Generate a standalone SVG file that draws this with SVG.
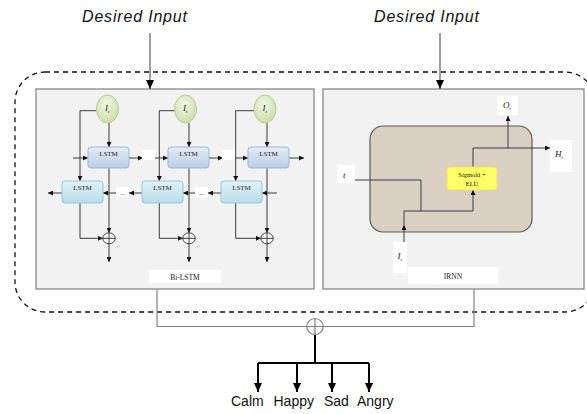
<svg xmlns="http://www.w3.org/2000/svg" width="587" height="414" viewBox="0 0 587 414">
<defs>
<style>
.ln{fill:none;stroke:#3a3a3a;stroke-width:1}
.gl{fill:none;stroke:#808080;stroke-width:1.2}
.bk{fill:none;stroke:#000;stroke-width:2}
.panel{fill:#f2f2f2;stroke:#7f7f7f;stroke-width:1.2}
.wb{fill:#fff;stroke:none}
.tm{font-family:"Liberation Serif",serif;fill:#222}
.lb{font-family:"Liberation Sans",Arial,sans-serif;fill:#111}
.up{fill:url(#gU);stroke:#9db7d6;stroke-width:1}
.lo{fill:url(#gL);stroke:#93c8da;stroke-width:1}
.el{fill:url(#gE);stroke:#b9cc8f;stroke-width:1}
.pc{fill:#fff;stroke:#404040;stroke-width:1}
</style>
<linearGradient id="gU" x1="0" y1="0" x2="0" y2="1"><stop offset="0" stop-color="#e4ecf6"/><stop offset="1" stop-color="#b9cde6"/></linearGradient>
<linearGradient id="gL" x1="0" y1="0" x2="0" y2="1"><stop offset="0" stop-color="#e2f2f7"/><stop offset="1" stop-color="#b5dde9"/></linearGradient>
<radialGradient id="gE" cx="0.45" cy="0.35" r="0.7"><stop offset="0" stop-color="#f2f6e6"/><stop offset="1" stop-color="#c9dca4"/></radialGradient>
<marker id="a" markerUnits="userSpaceOnUse" markerWidth="5" markerHeight="5" refX="5" refY="2.5" orient="auto"><path d="M0,0 L5,2.5 L0,5 z" fill="#111"/></marker>
<marker id="A" markerUnits="userSpaceOnUse" markerWidth="9" markerHeight="8" refX="9" refY="4" orient="auto"><path d="M0,0 L9,4 L0,8 z" fill="#000"/></marker>
</defs>
<rect width="587" height="414" fill="#fff"/>

<g id="frame">
<rect x="15" y="72" width="580" height="240" rx="30" fill="none" stroke="#111" stroke-width="1.3" stroke-dasharray="5,4"/>
</g>

<g id="input-left">
<text class="lb" x="82" y="22" font-size="16" font-style="italic" textLength="105">Desired Input</text>
</g>
<g id="input-right">
<text class="lb" x="374" y="22" font-size="16" font-style="italic" textLength="105">Desired Input</text>
</g>

<g id="bilstm">
<rect class="panel" x="36" y="89" width="278" height="200"/>
<rect class="wb" x="149" y="270" width="72" height="13"/>
<text class="tm" x="185" y="280" font-size="7.5" text-anchor="middle">Bi-LSTM</text>
</g>

<g id="irnn">
<rect class="panel" x="323" y="89" width="261" height="200"/>
<rect x="370" y="126" width="162" height="106" rx="13" fill="#d9d0c3" stroke="#5a5a5a" stroke-width="1.2"/>
<rect class="wb" x="408" y="267" width="90" height="17"/>
<text class="tm" x="453" y="279" font-size="7.5" text-anchor="middle">IRNN</text>
</g>

<g id="connectors">
<line class="ln" x1="150" y1="33" x2="150" y2="89" stroke="#000" marker-end="url(#A)"/>
<line class="ln" x1="440" y1="33" x2="440" y2="89" stroke="#000" marker-end="url(#A)"/>
<!-- Bi-LSTM internal -->
<path class="ln" d="M96.5,110.7 H80 V181" marker-end="url(#a)"/>
<path class="ln" d="M174.5,110.7 H159.3 V181" marker-end="url(#a)"/>
<path class="ln" d="M254,110.7 H235.7 V181" marker-end="url(#a)"/>
<path class="ln" d="M109,123 V147" marker-end="url(#a)"/>
<path class="ln" d="M189,123 V147" marker-end="url(#a)"/>
<path class="ln" d="M267,123 V147" marker-end="url(#a)"/>
<path class="ln" d="M109,168 V232.8" marker-end="url(#a)"/>
<path class="ln" d="M189,168 V232.8" marker-end="url(#a)"/>
<path class="ln" d="M267,168 V232.8" marker-end="url(#a)"/>
<path class="ln" d="M109,243.8 V262" marker-end="url(#a)"/>
<path class="ln" d="M189,243.8 V262" marker-end="url(#a)"/>
<path class="ln" d="M267,243.8 V262" marker-end="url(#a)"/>
<path class="ln" d="M80,203 V238.3 H102.8" marker-end="url(#a)"/>
<path class="ln" d="M159.3,203 V238.3 H182.8" marker-end="url(#a)"/>
<path class="ln" d="M235.7,203 V238.3 H260.8" marker-end="url(#a)"/>
<path class="ln" d="M73,158 H88" marker-end="url(#a)"/>
<path class="ln" d="M129,158 H143" marker-end="url(#a)"/>
<path class="ln" d="M155,158 H168" marker-end="url(#a)"/>
<path class="ln" d="M209,158 H223" marker-end="url(#a)"/>
<path class="ln" d="M235,158 H248" marker-end="url(#a)"/>
<path class="ln" d="M289,158 H304" marker-end="url(#a)"/>
<path class="ln" d="M277,193 H262" marker-end="url(#a)"/>
<path class="ln" d="M221,193 H208" marker-end="url(#a)"/>
<path class="ln" d="M195,193 H183" marker-end="url(#a)"/>
<path class="ln" d="M142,193 H129" marker-end="url(#a)"/>
<path class="ln" d="M116,193 H103" marker-end="url(#a)"/>
<path class="ln" d="M62,193 H48" marker-end="url(#a)"/>
<!-- IRNN internal -->
<path class="ln" d="M473,167 V148 H550" marker-end="url(#a)"/>
<path class="ln" d="M508,148 V116" marker-end="url(#a)"/>
<path class="ln" d="M355,180 H421 V211"/>
<path class="ln" d="M404,247 V225" marker-end="url(#a)"/>
<path class="ln" d="M404,225 V211 H473 V190" marker-end="url(#a)"/>
<!-- bottom merge -->
<path class="gl" d="M157,289 V326.5 H474 V289"/>
<path class="bk" d="M315,334 V363"/>
<path class="bk" d="M258,363 H369"/>
<path class="bk" d="M258,363 V392" marker-end="url(#A)"/>
<path class="bk" d="M297,363 V392" marker-end="url(#A)"/>
<path class="bk" d="M332,363 V392" marker-end="url(#A)"/>
<path class="bk" d="M369,363 V392" marker-end="url(#A)"/>
</g>

<g id="dots">
<rect class="wb" x="142" y="150" width="13" height="10"/>
<rect class="wb" x="222" y="150" width="13" height="10"/>
<rect class="wb" x="116" y="187" width="13" height="10"/>
<rect class="wb" x="195" y="187" width="13" height="10"/>
<text class="tm" x="122.5" y="195" font-size="6" text-anchor="middle" fill="#555">...</text>
<text class="tm" x="201.5" y="195" font-size="6" text-anchor="middle" fill="#555">...</text>
</g>

<g id="input-1"><ellipse class="el" cx="107.5" cy="109" rx="11" ry="14"/><text class="tm" x="105" y="111" font-size="9" font-style="italic">I<tspan font-size="5" dy="2">t</tspan></text></g>
<g id="input-2"><ellipse class="el" cx="185.5" cy="109" rx="11" ry="14"/><text class="tm" x="183" y="111" font-size="9" font-style="italic">I<tspan font-size="5" dy="2">t</tspan></text></g>
<g id="input-3"><ellipse class="el" cx="265" cy="109" rx="11" ry="14"/><text class="tm" x="262.5" y="111" font-size="9" font-style="italic">I<tspan font-size="5" dy="2">t</tspan></text></g>

<g id="lstm-f1"><rect class="up" x="88" y="147" width="41" height="21" rx="3"/><text class="tm" x="108.5" y="156" font-size="7" text-anchor="middle">LSTM</text></g>
<g id="lstm-f2"><rect class="up" x="168" y="147" width="41" height="21" rx="3"/><text class="tm" x="188.5" y="156" font-size="7" text-anchor="middle">LSTM</text></g>
<g id="lstm-f3"><rect class="up" x="248" y="147" width="41" height="21" rx="3"/><text class="tm" x="268.5" y="156" font-size="7" text-anchor="middle">LSTM</text></g>
<g id="lstm-b1"><rect class="lo" x="62" y="181" width="41" height="22" rx="3"/><text class="tm" x="82.5" y="190" font-size="7" text-anchor="middle">LSTM</text></g>
<g id="lstm-b2"><rect class="lo" x="142" y="181" width="41" height="22" rx="3"/><text class="tm" x="162.5" y="190" font-size="7" text-anchor="middle">LSTM</text></g>
<g id="lstm-b3"><rect class="lo" x="221" y="181" width="41" height="22" rx="3"/><text class="tm" x="241.5" y="190" font-size="7" text-anchor="middle">LSTM</text></g>

<g id="sum-1"><ellipse class="pc" cx="109" cy="238.3" rx="6.2" ry="5.5"/><path class="ln" d="M102.8,238.3 H115.2 M109,232.8 V243.8"/></g>
<g id="sum-2"><ellipse class="pc" cx="189" cy="238.3" rx="6.2" ry="5.5"/><path class="ln" d="M182.8,238.3 H195.2 M189,232.8 V243.8"/></g>
<g id="sum-3"><ellipse class="pc" cx="267" cy="238.3" rx="6.2" ry="5.5"/><path class="ln" d="M260.8,238.3 H273.2 M267,232.8 V243.8"/></g>

<g id="sigmoid-elu"><rect x="447" y="167" width="50" height="23" rx="3" fill="#ffff66" stroke="#f0e070" stroke-width="1.2"/><text class="tm" x="472" y="177" font-size="6.5" text-anchor="middle">Sigmoid +</text><text class="tm" x="472" y="186" font-size="6.5" text-anchor="middle">ELU</text></g>
<g id="out-o"><rect class="wb" x="497" y="96" width="21" height="19"/><text class="tm" x="503" y="108" font-size="9" font-style="italic">O<tspan font-size="5" dy="2">t</tspan></text></g>
<g id="out-h"><rect class="wb" x="550" y="140" width="22" height="32"/><text class="tm" x="555" y="157" font-size="9" font-style="italic">H<tspan font-size="5" dy="2">t</tspan></text></g>
<g id="in-t"><rect class="wb" x="337" y="165" width="18" height="18"/><text class="tm" x="343" y="178" font-size="9" font-style="italic">t</text></g>
<g id="in-i"><rect class="wb" x="393" y="242" width="14" height="31"/><text class="tm" x="397.5" y="259" font-size="9" font-style="italic">I<tspan font-size="5" dy="2">t</tspan></text></g>

<g id="merge"><ellipse cx="315" cy="326.5" rx="8.3" ry="8" fill="#fff" stroke="#808080" stroke-width="1.2"/><path class="gl" d="M306.7,326.5 H323.3 M315,318.5 V334.5"/></g>

<g id="out-calm"><text class="lb" x="231" y="406" font-size="14">Calm</text></g>
<g id="out-happy"><text class="lb" x="273.5" y="406" font-size="14">Happy</text></g>
<g id="out-sad"><text class="lb" x="324" y="406" font-size="14">Sad</text></g>
<g id="out-angry"><text class="lb" x="357" y="406" font-size="14">Angry</text></g>
</svg>
